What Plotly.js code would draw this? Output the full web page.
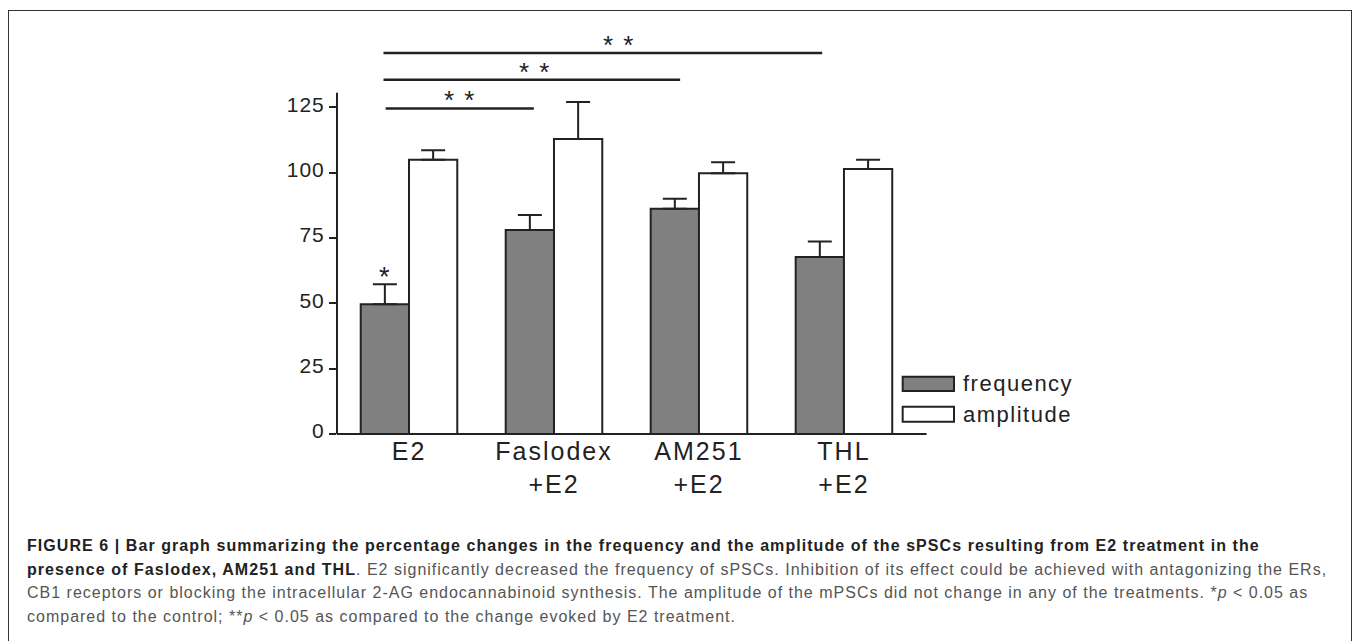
<!DOCTYPE html>
<html><head><meta charset="utf-8">
<script src="https://cdn.plot.ly/plotly-3.0.1.min.js"></script>
<style>
html,body{margin:0;padding:0;background:#fff;width:1356px;height:641px;overflow:hidden;}
#frame{position:absolute;left:8px;top:10px;width:1344px;height:650px;border:1.5px solid #333;box-sizing:border-box;}
#chart{position:absolute;left:0;top:0;width:1356px;height:641px;}
#caption{position:absolute;left:27px;top:534px;font-family:"Liberation Sans",Arial,sans-serif;font-size:16px;letter-spacing:1.0px;line-height:23.5px;color:#555;white-space:nowrap;}
#caption b{color:#222;letter-spacing:1.06px;}
.xtick text{letter-spacing:2px;}
.ytick text{letter-spacing:1px;}
.annotation-text{letter-spacing:1.5px;}
</style></head>
<body>
<div id="frame"></div>
<div id="chart"></div>
<div id="caption">
<b>FIGURE 6 | Bar graph summarizing the percentage changes in the frequency and the amplitude of the sPSCs resulting from E2 treatment in the</b><br>
<b>presence of Faslodex, AM251 and THL</b>. E2 significantly decreased the frequency of sPSCs. Inhibition of its effect could be achieved with antagonizing the ERs,<br>
CB1 receptors or blocking the intracellular 2-AG endocannabinoid synthesis. The amplitude of the mPSCs did not change in any of the treatments. *<i>p</i> &lt; 0.05 as<br>
compared to the control; **<i>p</i> &lt; 0.05 as compared to the change evoked by E2 treatment.
</div>
<script>
// ---- data ----
const categories = ['E2', 'Faslodex<br>+E2', 'AM251<br>+E2', 'THL<br>+E2'];
const freqValues = [49.7, 78.1, 86.2, 67.7];
const freqErr    = [7.6, 5.7, 3.8, 6.0];
const ampValues  = [105.0, 112.9, 99.8, 101.4];
const ampErr     = [3.6, 14.2, 4.2, 3.6];
const yTickVals  = [0, 25, 50, 75, 100, 125];
const seriesNames = ['frequency', 'amplitude'];
// significance brackets (from E2 to each treatment)
const sigFrom  = [-0.176, -0.176, -0.161];
const sigTo    = [2.85, 1.87, 0.861];
const sigLevel = [145.8, 135.6, 124.6];
const sigLabelX = [1.445, 0.872, 0.349];
const sigLabel = ['* *', '* *', '* *'];
const singleStarLabel = '*';

// ---- style / layout constants ----
const FONT = '"Liberation Sans", Arial, sans-serif';
const INK = '#222';
const X_MIN = -0.4966, X_MAX = 4.766, Y_MAX = 155;
const Y_AXIS_TOP = 130.6, X_AXIS_END = 3.57;
const BARGAP = 0.334;
const idx = categories.map((_, i) => i);

const errStyle = {type: 'data', symmetric: false, color: INK, thickness: 2, width: 12};

const traces = [
  {type: 'bar', name: seriesNames[0], x: idx, y: freqValues,
   marker: {color: '#808080', line: {color: INK, width: 2}},
   error_y: Object.assign({array: freqErr, arrayminus: freqErr.map(() => 0)}, errStyle),
   hoverinfo: 'none'},
  {type: 'bar', name: seriesNames[1], x: idx, y: ampValues,
   marker: {color: '#ffffff', line: {color: INK, width: 2}},
   error_y: Object.assign({array: ampErr, arrayminus: ampErr.map(() => 0)}, errStyle),
   hoverinfo: 'none'}
];

const shapes = [
  {type: 'line', xref: 'paper', yref: 'y', x0: 0, x1: 0, y0: 0, y1: Y_AXIS_TOP, line: {color: INK, width: 2}},
  {type: 'line', xref: 'x', yref: 'paper', x0: X_MIN, x1: X_AXIS_END, y0: 0, y1: 0, line: {color: INK, width: 2}}
];
sigFrom.forEach((x0, i) => shapes.push({type: 'line', xref: 'x', yref: 'y', x0: x0, x1: sigTo[i],
  y0: sigLevel[i], y1: sigLevel[i], line: {color: INK, width: 2.5}}));

const annotations = [];
sigLabelX.forEach((x, i) => annotations.push({xref: 'x', yref: 'y', x: x, y: sigLevel[i], text: sigLabel[i],
  showarrow: false, xanchor: 'center', yanchor: 'bottom', yshift: -9, font: {family: FONT, size: 26, color: INK}}));
const barHalf = (1 - BARGAP) / 4;
annotations.push({xref: 'x', yref: 'y', x: idx[0] - barHalf, y: freqValues[0] + freqErr[0], text: singleStarLabel,
  showarrow: false, xanchor: 'center', yanchor: 'bottom', yshift: -10, font: {family: FONT, size: 27, color: INK}});

// legend (drawn)
const legendX0 = 3.405, legendX1 = 3.759, legendTextX = 3.81;
const legendRows = [[16.5, 21.9], [4.7, 10.4]];
const legendFill = ['#808080', '#ffffff'];
seriesNames.forEach((n, i) => {
  shapes.push({type: 'rect', xref: 'x', yref: 'y', x0: legendX0, x1: legendX1, y0: legendRows[i][0], y1: legendRows[i][1],
    fillcolor: legendFill[i], line: {color: INK, width: 2}});
  annotations.push({xref: 'x', yref: 'y', x: legendTextX, y: (legendRows[i][0] + legendRows[i][1]) / 2, text: n,
    showarrow: false, xanchor: 'left', yanchor: 'middle', font: {family: FONT, size: 22, color: INK}});
});

const layout = {
  width: 1356, height: 641,
  margin: {l: 337, r: 256, t: 29, b: 207, pad: 0},
  paper_bgcolor: 'rgba(0,0,0,0)', plot_bgcolor: 'rgba(0,0,0,0)',
  barmode: 'group', bargap: BARGAP, bargroupgap: 0,
  showlegend: false,
  xaxis: {type: 'linear', range: [X_MIN, X_MAX], tickvals: idx, ticktext: categories,
    showline: false, showgrid: false, zeroline: false, ticks: '',
    tickfont: {family: FONT, size: 25, color: INK}, fixedrange: true},
  yaxis: {range: [0, Y_MAX], tickvals: yTickVals, showline: false, showgrid: false, zeroline: false,
    ticks: 'outside', ticklen: 7, tickwidth: 2, tickcolor: INK, ticklabelshift: -3,
    tickfont: {family: FONT, size: 21, color: INK}, fixedrange: true},
  shapes: shapes,
  annotations: annotations,
  font: {family: FONT}
};

Plotly.newPlot('chart', traces, layout, {staticPlot: true, displayModeBar: false});
</script>
</body></html>
